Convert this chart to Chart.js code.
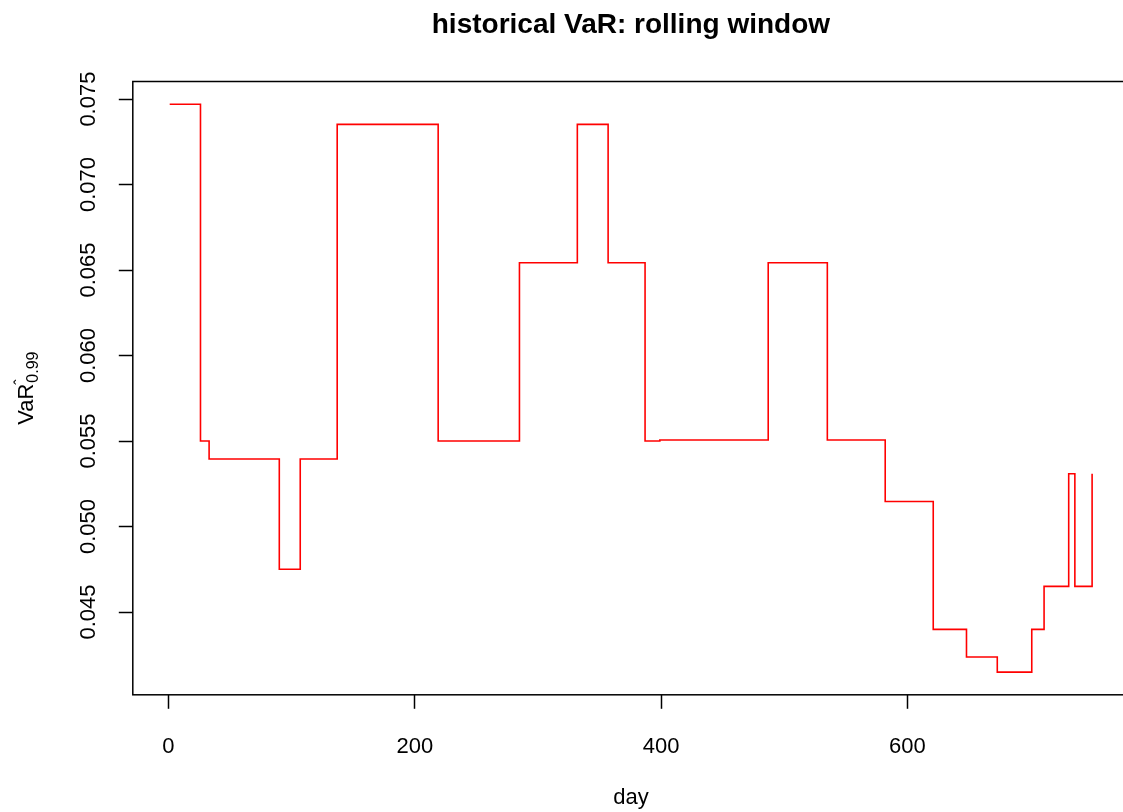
<!DOCTYPE html>
<html>
<head>
<meta charset="utf-8">
<script src="https://cdn.jsdelivr.net/npm/chart.js@4.4.1/dist/chart.umd.min.js"></script>
<style>
    html, body { margin: 0; padding: 0; background: #fff; overflow: hidden; }
    #wrap { width: 1123px; height: 812px; overflow: hidden; position: relative; }
    #varChart { display: block; }
</style>
</head>
<body>
<div id="wrap"><canvas id="varChart" width="1135" height="812"></canvas></div>
<script>
// days where the rolling VaR changes level, and the level from that day on
const changeDays = [1, 26, 33, 90, 107, 137, 219, 285, 332, 357, 387, 399, 487, 535, 582, 621, 648, 673, 701, 711, 731, 736, 750];
const varLevels = [0.0747, 0.0550, 0.05395, 0.0475, 0.05395, 0.07352, 0.0550, 0.06543, 0.07352, 0.06543, 0.0550, 0.05506, 0.06543, 0.05506, 0.05147, 0.04399, 0.04237, 0.04149, 0.04399, 0.0465, 0.05309, 0.0465, 0.05309];

const xTickValues = [0, 200, 400, 600];
const yTickValues = [0.045, 0.050, 0.055, 0.060, 0.065, 0.070, 0.075];
const yTickLabels = ['0.045', '0.050', '0.055', '0.060', '0.065', '0.070', '0.075'];

const chartTitle = 'historical VaR: rolling window';
const xTitle = 'day';

const FONT = "'Liberation Sans', Arial, Helvetica, sans-serif";

// R style axis range: data range stretched by 4% on each side
function rRange(values) {
    const lo = Math.min(...values);
    const hi = Math.max(...values);
    const pad = (hi - lo) * 0.04;
    return [lo - pad, hi + pad];
}

const [xMin, xMax] = rRange(changeDays);
const [yMin, yMax] = rRange(varLevels);

const boxAndLabels = {
    id: 'boxAndLabels',
    afterDraw(chart) {
        const { ctx, chartArea } = chart;
        ctx.save();

        // plot box
        ctx.strokeStyle = '#000';
        ctx.lineWidth = 1.5;
        ctx.strokeRect(chartArea.left, chartArea.top, chartArea.right - chartArea.left, chartArea.bottom - chartArea.top);

        // main title
        ctx.fillStyle = '#000';
        ctx.font = 'bold 28px ' + FONT;
        ctx.textAlign = 'center';
        ctx.textBaseline = 'alphabetic';
        ctx.fillText(chartTitle, (chartArea.left + chartArea.right) / 2, 33);

        // y title: VaR with hat mark and 0.99 subscript, rotated
        const mainFont = '22px ' + FONT;
        const subFont = '16px ' + FONT;
        ctx.font = mainFont;
        const wMain = ctx.measureText('VaR').width;
        ctx.font = subFont;
        const wSub = ctx.measureText('0.99').width;
        const total = wMain + 1 + wSub;
        const cy = (chartArea.top + chartArea.bottom) / 2;

        ctx.translate(33, cy + total / 2);
        ctx.rotate(-Math.PI / 2);
        ctx.textAlign = 'left';
        ctx.font = mainFont;
        ctx.fillText('VaR', 0, 0);
        ctx.font = subFont;
        ctx.fillText('\u02C6', wMain - 1, -7);
        ctx.fillText('0.99', wMain + 1, 5);

        ctx.restore();
    }
};

document.addEventListener('DOMContentLoaded', () => {
    const ctx = document.getElementById('varChart');

    new Chart(ctx, {
        type: 'line',
        data: {
            datasets: [{
                data: changeDays.map((d, i) => ({ x: d, y: varLevels[i] })),
                borderColor: '#FF0000',
                borderWidth: 1.6,
                pointRadius: 0,
                stepped: 'before',
                fill: false,
                tension: 0
            }]
        },
        options: {
            responsive: false,
            animation: false,
            events: [],
            layout: {
                padding: { left: 0, right: 6, top: 81.5, bottom: 0 }
            },
            plugins: {
                legend: { display: false },
                title: { display: false },
                tooltip: { enabled: false }
            },
            scales: {
                x: {
                    type: 'linear',
                    min: xMin,
                    max: xMax,
                    afterBuildTicks: (scale) => {
                        scale.ticks = xTickValues.map(v => ({ value: v }));
                    },
                    afterFit: (scale) => {
                        scale.height = 812 - 694.8;
                    },
                    border: { display: false },
                    grid: {
                        display: true,
                        drawOnChartArea: false,
                        drawTicks: true,
                        tickLength: 14,
                        tickColor: '#000',
                        tickWidth: 1.5
                    },
                    ticks: {
                        autoSkip: false,
                        maxRotation: 0,
                        minRotation: 0,
                        padding: 25,
                        color: '#000',
                        font: { family: FONT, size: 22 },
                        callback: (v) => String(v)
                    },
                    title: {
                        display: true,
                        text: xTitle,
                        color: '#000',
                        font: { family: FONT, size: 22 },
                        padding: { top: 0, bottom: 1 }
                    }
                },
                y: {
                    type: 'linear',
                    min: yMin,
                    max: yMax,
                    afterBuildTicks: (scale) => {
                        scale.ticks = yTickValues.map(v => ({ value: v }));
                    },
                    afterFit: (scale) => {
                        scale.width = 132.8;
                    },
                    border: { display: false },
                    grid: {
                        display: true,
                        drawOnChartArea: false,
                        drawTicks: true,
                        tickLength: 14,
                        tickColor: '#000',
                        tickWidth: 1.5
                    },
                    ticks: {
                        autoSkip: false,
                        minRotation: 90,
                        maxRotation: 90,
                        crossAlign: 'center',
                        padding: 2,
                        color: '#000',
                        font: { family: FONT, size: 22 },
                        callback: (v, i) => yTickLabels[i]
                    }
                }
            }
        },
        plugins: [boxAndLabels]
    });
});
</script>
</body>
</html>
